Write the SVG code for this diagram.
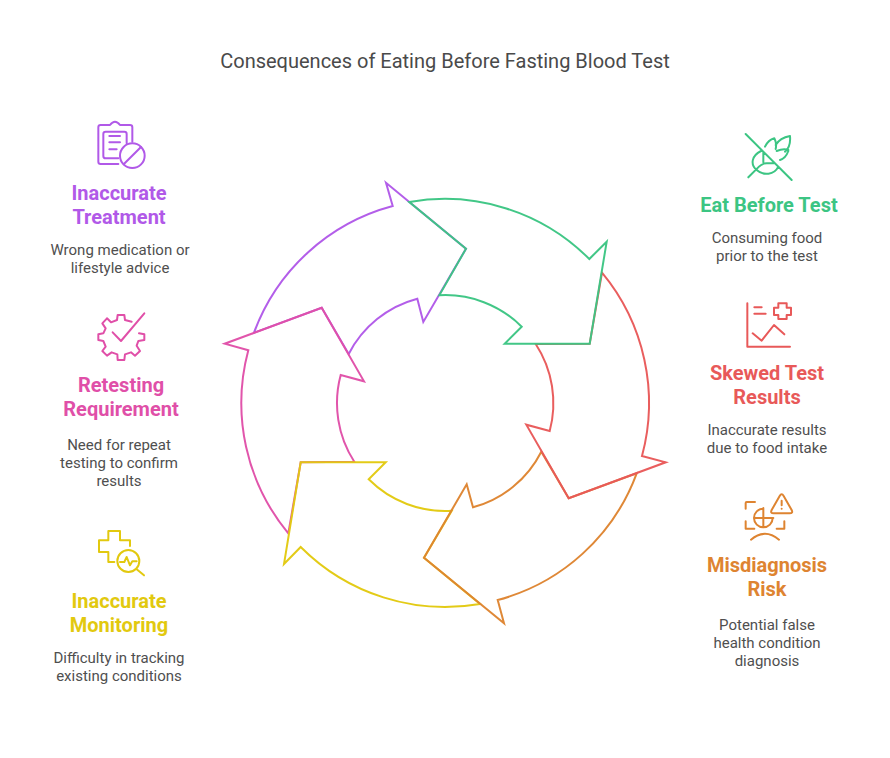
<svg xmlns="http://www.w3.org/2000/svg" width="890" height="758" viewBox="0 0 890 758">
<style>
text{font-family:Roboto,"Liberation Sans",sans-serif;text-anchor:middle}
.title{font-size:20px;fill:#4a4a4a}
.h{font-size:20px;font-weight:700}
.d{font-size:15px;fill:#4f4f4f}
.a{fill:none;stroke-width:2;stroke-linejoin:miter;stroke-opacity:.97}
.i{fill:none;stroke-width:6;stroke-linecap:round;stroke-linejoin:round}
.purple{stroke:#b159e8}.pink{stroke:#e04fa8}.yellow{stroke:#e2c90f}.orange{stroke:#de8431}.red{stroke:#e85959}.green{stroke:#3cc583}
.tpurple{fill:#b159e8}.tpink{fill:#e04fa8}.tyellow{fill:#e2c90f}.torange{fill:#de8431}.tred{fill:#e85959}.tgreen{fill:#3cc583}
</style>
<rect width="890" height="758" fill="#fff"/>
<text class="title" x="445" y="68">Consequences of Eating Before Fasting Blood Test</text>
<g id="connectors">
<path class="a purple" d="M254,332.7A204,204 0 0 1 392.7,206L386,182.7L466,248.7L423.3,322L417.3,298.7A108,108 0 0 0 348.7,354L321.7,307.7Z"/>
<path class="a pink" d="M288.3,533.3A204,204 0 0 1 248.3,350.3L224.7,343.7L321.7,307.7L364,381.3L340.7,375A108,108 0 0 0 354.3,461.7L300.7,462.3Z"/>
<path class="a yellow" d="M480,604A204,204 0 0 1 300.7,547L284,564L300.7,462.3H385.7L368.7,479.3A108,108 0 0 0 451.7,510.8L424,557.7Z"/>
<path class="a orange" d="M636.7,473.3A204,204 0 0 1 497.7,600L504,623.3L424,557.7L466.7,484.3L473,507.3A108,108 0 0 0 541.3,451.7L568.7,498.3Z"/>
<path class="a red" d="M602,272.7A204,204 0 0 1 642,456L665.7,462.3L568.7,498.3L526.3,424.7L549.7,431A108,108 0 0 0 535.7,344L589.7,343.7Z"/>
<path class="a green" d="M409.3,202A204,204 0 0 1 589.3,259L606.7,241.7L589.7,343.7H504.7L521.7,326.7A108,108 0 0 0 439.3,295.3L466,248.7Z"/>
</g>
<g id="node-eat">
<g transform="translate(735,125) scale(.3333)" class="i green"><path d="M32,27L170,165M40,157L72,125Q82,115 95,115H118M78,78C50,92 45,118 65,135C85,153 118,150 130,125M85,82V112M90,65Q100,45 118,40Q126,55 122,72M122,60Q135,38 165,33Q168,65 150,80M125,78Q145,70 160,75M135,105Q152,100 160,78"/></g>
<text class="h tgreen" x="769" y="212">Eat Before Test</text>
<text class="d" x="767" y="243">Consuming food</text><text class="d" x="767" y="261">prior to the test</text>
</g>
<g id="node-skewed">
<g transform="translate(735,295) scale(.3333)" class="i red"><path d="M37,25V155H165M58,37H80M58,56H92M130,25H155V38H168V60H155V72H130V60H117V38H130ZM53,115L80,137L117,90L148,118"/></g>
<text class="h tred" x="767" y="380">Skewed Test</text><text class="h tred" x="767" y="404">Results</text>
<text class="d" x="767" y="435">Inaccurate results</text><text class="d" x="767" y="453">due to food intake</text>
</g>
<g id="node-misdiagnosis">
<g transform="translate(735,488) scale(.3333)" class="i orange"><path d="M134,24Q140,14 146,24L170,66Q175,76 164,76H116Q105,76 110,66ZM140,38V52M140,62V62.5M32,62V45Q32,42 35,42H60M32,100V122H58M148,100V122H125M85,60V118M58,90H115M85,62A28,28 0 1 0 113,90M48,155Q90,120 132,155"/></g>
<text class="h torange" x="767" y="572">Misdiagnosis</text><text class="h torange" x="767" y="596">Risk</text>
<text class="d" x="767" y="630">Potential false</text><text class="d" x="767" y="648">health condition</text><text class="d" x="767" y="666">diagnosis</text>
</g>
<g id="node-monitoring">
<g transform="translate(85,522) scale(.3333)" class="i yellow"><path d="M135,72V55H105V27H70V55H42V90H70V120H88M155,142L177,160M105,120H118L125,105L135,130L142,118H155"/><circle cx="130" cy="117" r="33"/></g>
<text class="h tyellow" x="119" y="608">Inaccurate</text><text class="h tyellow" x="119" y="632">Monitoring</text>
<text class="d" x="119" y="663">Difficulty in tracking</text><text class="d" x="119" y="681">existing conditions</text>
</g>
<g id="node-retesting">
<g transform="translate(85,305) scale(.3333)" class="i pink"><path d="M140,50L120,45L118,30H98L96,45L78,52L66,40L52,55L62,70L55,85L40,88V105L55,108L62,125L52,138L66,152L80,142L97,148L98,165H118L120,148L138,142L150,152L165,138L155,122L160,108L178,105V88L162,85M83,82L108,108L178,25"/></g>
<text class="h tpink" x="121" y="392">Retesting</text><text class="h tpink" x="121" y="416">Requirement</text>
<text class="d" x="119" y="450">Need for repeat</text><text class="d" x="119" y="468">testing to confirm</text><text class="d" x="119" y="486">results</text>
</g>
<g id="node-treatment">
<g transform="translate(85,110) scale(.3333)" class="i purple"><path d="M142,95V52Q142,45 135,45H105Q90,25 75,45H47Q40,45 40,52V155Q40,162 47,162H100M125,100V72Q125,65 118,65H62Q55,65 55,72V138Q55,145 62,145H100M73,78H105M73,97H105M73,118H95M116,163L168,111"/><circle cx="142" cy="137" r="37"/></g>
<text class="h tpurple" x="119" y="200">Inaccurate</text><text class="h tpurple" x="119" y="224">Treatment</text>
<text class="d" x="120" y="255">Wrong medication or</text><text class="d" x="120" y="273">lifestyle advice</text>
</g>
</svg>
